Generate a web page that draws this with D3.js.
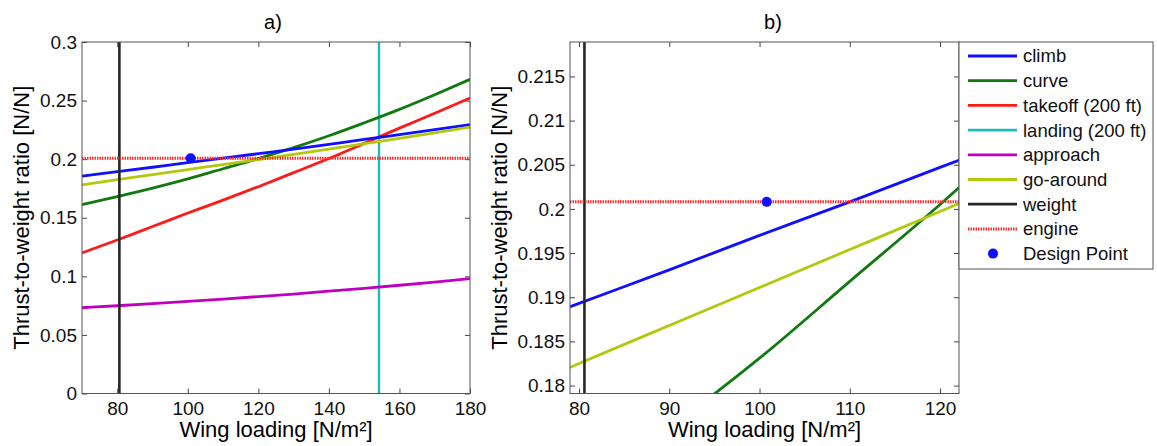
<!DOCTYPE html>
<html>
<head>
<meta charset="utf-8">
<script src="https://cdn.jsdelivr.net/npm/d3@7"></script>
<style>
  body { margin: 0; background: #fff; }
  svg { font-family: "Liberation Sans", Arial, sans-serif; }
  .tick text { font-size: 19px; fill: #111; }
  .tick line { stroke: #444; }
</style>
</head>
<body>
<svg id="chart" width="1157" height="446"></svg>
<script>
// wing loading samples [N/m²]
const wingLoad = [70, 80, 90, 100, 110, 120, 130, 140, 150, 160, 170, 180];
// thrust-to-weight per constraint
const climb    = [0.1855, 0.1893, 0.1931, 0.1970, 0.2008, 0.2047, 0.2086, 0.2127, 0.2168, 0.2210, 0.2252, 0.2295];
const curve    = [0.1612, 0.1680, 0.1752, 0.1831, 0.1918, 0.2005, 0.2098, 0.2200, 0.2310, 0.2425, 0.2550, 0.2681];
const takeoff  = [0.1200, 0.1310, 0.1425, 0.1540, 0.1650, 0.1765, 0.1885, 0.2005, 0.2135, 0.2265, 0.2392, 0.2522];
const approach = [0.0732, 0.0749, 0.0767, 0.0786, 0.0806, 0.0827, 0.0849, 0.0873, 0.0898, 0.0924, 0.0951, 0.0980];
const goAround = [0.1780, 0.1825, 0.1868, 0.1911, 0.1954, 0.1997, 0.2041, 0.2086, 0.2132, 0.2178, 0.2225, 0.2273];
const weightWL  = 80.6;   // vertical constraint
const landingWL = 154.2;  // vertical constraint
const engineTW  = 0.2008; // horizontal constraint
const designPoint = { wl: 100.8, tw: 0.2008 };

const legendNames = ["climb", "curve", "takeoff (200 ft)", "landing (200 ft)", "approach", "go-around", "weight", "engine", "Design Point"];

const colors = {
  climb: "#1010ff", curve: "#107a10", takeoff: "#ff1a1a", landing: "#1fbcbc",
  approach: "#c000c0", goAround: "#b2c80a", weight: "#262626", engine: "#ff2a2a", point: "#1010ff"
};

const svg = d3.select("#chart");

const panels = [
  { id: "a", title: "a)", titleX: 273, left: 82, right: 470, top: 42, bottom: 393.5,
    xDom: [70, 180], yDom: [0, 0.3], xTicks: d3.range(80, 181, 20), yTicks: d3.range(0, 0.3001, 0.05),
    labelX: 29 },
  { id: "b", title: "b)", titleX: 773, left: 570, right: 959, top: 42, bottom: 393.5,
    xDom: [79, 122.1], yDom: [0.1791, 0.2189], xTicks: d3.range(80, 121, 10), yTicks: d3.range(0.18, 0.2151, 0.005),
    labelX: 507 }
];

const fmt = d => String(+d.toFixed(4));

panels.forEach(p => {
  const x = d3.scaleLinear().domain(p.xDom).range([p.left, p.right]);
  const y = d3.scaleLinear().domain(p.yDom).range([p.bottom, p.top]);
  const g = svg.append("g");

  g.append("clipPath").attr("id", "clip-" + p.id)
    .append("rect").attr("x", p.left).attr("y", p.top)
    .attr("width", p.right - p.left).attr("height", p.bottom - p.top);

  // axes, ticks pointing inward
  const yt = p.yTicks.map(v => +v.toFixed(4));
  g.append("g").attr("transform", `translate(${p.left},0)`)
    .call(d3.axisLeft(y).tickValues(yt).tickSize(-5).tickPadding(5).tickFormat(fmt))
    .call(s => s.select(".domain").remove());
  g.append("g").attr("transform", `translate(${p.right},0)`)
    .call(d3.axisRight(y).tickValues(yt).tickSize(-5).tickFormat(""))
    .call(s => s.select(".domain").remove());
  g.append("g").attr("transform", `translate(0,${p.bottom})`)
    .call(d3.axisBottom(x).tickValues(p.xTicks).tickSize(-5).tickPadding(8).tickFormat(fmt))
    .call(s => s.select(".domain").remove());
  g.append("g").attr("transform", `translate(0,${p.top})`)
    .call(d3.axisTop(x).tickValues(p.xTicks).tickSize(-5).tickFormat(""))
    .call(s => s.select(".domain").remove());

  const plot = g.append("g").attr("clip-path", `url(#clip-${p.id})`);
  const line = d3.line().x(d => x(d[0])).y(d => y(d[1])).curve(d3.curveMonotoneX);

  const curves = [
    [curve, colors.curve], [takeoff, colors.takeoff], [approach, colors.approach],
    [climb, colors.climb], [goAround, colors.goAround]
  ];

  // vertical constraints
  plot.append("line")
    .attr("x1", x(landingWL)).attr("x2", x(landingWL))
    .attr("y1", y(p.yDom[0])).attr("y2", y(p.yDom[1]))
    .attr("stroke", colors.landing).attr("stroke-width", 2.4);

  curves.forEach(([vals, c]) => {
    plot.append("path")
      .datum(wingLoad.map((w, i) => [w, vals[i]]))
      .attr("d", line)
      .attr("fill", "none").attr("stroke", c).attr("stroke-width", 2.8);
  });

  plot.append("line")
    .attr("x1", x(weightWL)).attr("x2", x(weightWL))
    .attr("y1", y(p.yDom[0])).attr("y2", y(p.yDom[1]))
    .attr("stroke", colors.weight).attr("stroke-width", 2.6);

  plot.append("line")
    .attr("x1", x(p.xDom[0])).attr("x2", x(p.xDom[1]))
    .attr("y1", y(engineTW)).attr("y2", y(engineTW))
    .attr("stroke", colors.engine).attr("stroke-width", 3)
    .attr("stroke-dasharray", "1.5,1");

  plot.append("circle")
    .attr("cx", x(designPoint.wl)).attr("cy", y(designPoint.tw))
    .attr("r", 5).attr("fill", colors.point);

  // box
  g.append("rect").attr("x", p.left).attr("y", p.top)
    .attr("width", p.right - p.left).attr("height", p.bottom - p.top)
    .attr("fill", "none").attr("stroke", "#555").attr("stroke-width", 1);

  g.append("text").attr("x", p.titleX).attr("y", 29)
    .attr("text-anchor", "middle").attr("font-size", 20).text(p.title);

  g.append("text").attr("x", (p.left + p.right) / 2).attr("y", 437)
    .attr("text-anchor", "middle").attr("font-size", 22).text("Wing loading [N/m²]");

  g.append("text")
    .attr("transform", `translate(${p.labelX},${(p.top + p.bottom) / 2}) rotate(-90)`)
    .attr("text-anchor", "middle").attr("font-size", 22).text("Thrust-to-weight ratio [N/N]");
});

// legend
const lg = svg.append("g");
lg.append("rect").attr("x", 959).attr("y", 42).attr("width", 194).attr("height", 227)
  .attr("fill", "#fff").attr("stroke", "#555").attr("stroke-width", 1);

const legendStyles = [
  { c: colors.climb }, { c: colors.curve }, { c: colors.takeoff }, { c: colors.landing },
  { c: colors.approach }, { c: colors.goAround }, { c: colors.weight },
  { c: colors.engine, dash: "1.5,1" }, { c: colors.point, dot: true }
];

legendNames.forEach((name, i) => {
  const yy = 56 + i * 24.7;
  const st = legendStyles[i];
  if (st.dot) {
    lg.append("circle").attr("cx", 993).attr("cy", yy).attr("r", 5).attr("fill", st.c);
  } else {
    lg.append("line").attr("x1", 968).attr("x2", 1017).attr("y1", yy).attr("y2", yy)
      .attr("stroke", st.c).attr("stroke-width", st.dash ? 3 : 2.8)
      .attr("stroke-dasharray", st.dash || null);
  }
  lg.append("text").attr("x", 1023).attr("y", yy).attr("dy", "0.35em")
    .attr("font-size", 18.5).attr("fill", "#111").text(name);
});
</script>
</body>
</html>
